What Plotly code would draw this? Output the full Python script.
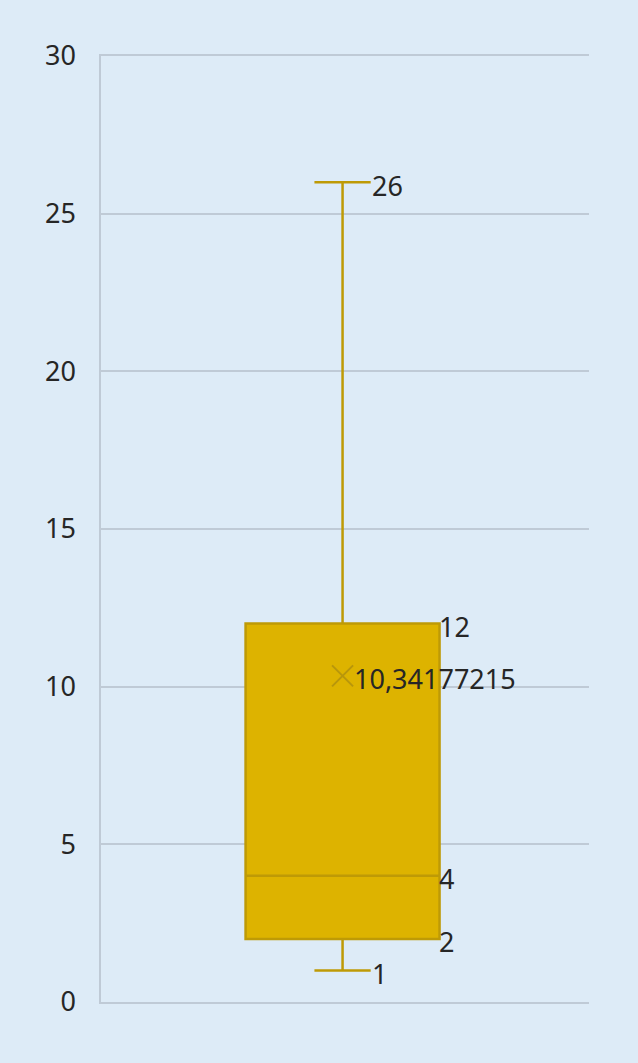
import plotly.graph_objects as go

# Data
q1 = [2]
median = [4]
q3 = [12]
lower = [1]
upper = [26]
mean = [10.34177215]
mean_label = ["10,34177215"]
yticks = [0, 5, 10, 15, 20, 25, 30]

BOX_W = 0.795
WHISK = 0.29
cap = BOX_W * WHISK / 2
edge = BOX_W / 2

FONT = "Noto Sans"
TXT = "#262626"
FS = 27
GRID = "#BFCAD6"

fig = go.Figure()
fig.add_trace(go.Box(
    x=[0], q1=q1, median=median, q3=q3, lowerfence=lower, upperfence=upper,
    width=BOX_W, whiskerwidth=WHISK, fillcolor="#DDB300",
    line=dict(color="#BE9A06", width=2.5), boxpoints=False, hoverinfo="skip",
))
# mean marker
fig.add_trace(go.Scatter(
    x=[0], y=mean, mode="markers",
    marker=dict(symbol="x-thin-open", size=21, color="#B8960B", line=dict(color="#B8960B", width=2)),
    hoverinfo="skip",
))

labels = [
    (0, mean[0], mean_label[0], 9),
    (cap, upper[0], str(upper[0]), -1),
    (cap, lower[0], str(lower[0]), -1),
    (edge, q3[0], str(q3[0]), -3),
    (edge, median[0], str(median[0]), -3),
    (edge, q1[0], str(q1[0]), -3),
]
for lx, ly, lt, xs in labels:
    fig.add_annotation(x=lx, y=ly, text=lt, showarrow=False, xanchor="left",
                       yanchor="middle", xshift=xs, yshift=-3,
                       font=dict(family=FONT, size=FS, color=TXT))

fig.update_layout(
    width=638, height=1063,
    paper_bgcolor="#DDEBF7", plot_bgcolor="#DDEBF7",
    margin=dict(l=101, r=49, t=56, b=61),
    showlegend=False,
    xaxis=dict(range=[-0.99, 1.01], showticklabels=False, showgrid=False,
               zeroline=False, fixedrange=True, showline=True, mirror=True,
               linecolor=GRID, linewidth=1.5),
    yaxis=dict(range=[0, 30], tickvals=yticks, ticktext=[str(v) for v in yticks],
               showgrid=True, gridcolor=GRID, gridwidth=1.5,
               zeroline=False, showline=True, linecolor=GRID, linewidth=1.5,
               ticks="", ticklabelstandoff=18,
               tickfont=dict(family=FONT, size=FS, color=TXT)),
)

fig.write_html("out.html", config={"displayModeBar": False},
               post_script="document.body.style.margin='0';document.body.style.background='#DDEBF7';")
